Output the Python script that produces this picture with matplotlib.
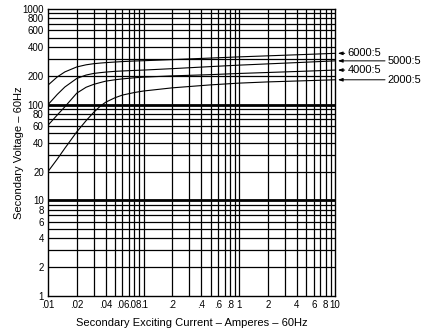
import matplotlib
matplotlib.use("Agg")
import matplotlib.pyplot as plt
import numpy as np

plt.rcParams['font.family'] = ['Liberation Sans', 'DejaVu Sans']

# exciting current (A) and secondary voltage (V)
current = [.01, .0125, .015, .02, .025, .03, .035, .04, .05, .06, .08, .1, .2, .5, 1, 2, 5, 10]
v_6000 = [160, 195, 220, 248, 261, 268, 272, 275, 279, 282, 286, 288, 296, 307, 316, 324, 335, 344]
v_5000 = [100, 128, 153, 188, 204, 212, 216, 219, 223, 225, 228, 230, 238, 250, 259, 267, 278, 287]
v_4000 = [61, 78, 95, 132, 152, 163, 170, 176, 182, 186, 191, 194, 200, 206, 212, 217, 224, 230]
v_2000 = [20, 27, 35, 52, 68, 83, 96, 106, 118, 126, 134, 139, 150, 161, 168, 173, 178, 182]

ratio_labels = ["6000:5", "5000:5", "4000:5", "2000:5"]
x_ticks = [.01, .02, .04, .06, .08, .1, .2, .4, .6, .8, 1, 2, 4, 6, 8, 10]
x_ticklabels = [".01", ".02", ".04", ".06", ".08", ".1", ".2", ".4", ".6", ".8",
                "1", "2", "4", "6", "8", "10"]
y_ticks = [1, 2, 4, 6, 8, 10, 20, 40, 60, 80, 100, 200, 400, 600, 800, 1000]

fig = plt.figure(figsize=(4.26, 3.35), dpi=100)
ax = fig.add_axes([48/426, 39/335, 287/426, 287/335])
ax.set_xscale('log')
ax.set_yscale('log')
ax.set_xlim(.01, 10)
ax.set_ylim(1, 1000)

# grid lines
for dec in [.01, .1, 1]:
    for m in range(2, 10):
        ax.axvline(dec * m, color='black', lw=0.9, zorder=1)
ax.axvline(.1, color='black', lw=0.9, zorder=1)
ax.axvline(1, color='black', lw=0.9, zorder=1)
for dec in [1, 10, 100]:
    for m in range(2, 10):
        ax.axhline(dec * m, color='black', lw=0.9, zorder=1)
ax.axhline(10, color='black', lw=2.0, zorder=1)
ax.axhline(100, color='black', lw=2.0, zorder=1)

curves = [v_6000, v_5000, v_4000, v_2000]
for vals in curves:
    ax.plot(current, vals, color='black', lw=0.8, zorder=3)

for sp in ax.spines.values():
    sp.set_color('black')
    sp.set_linewidth(1.0)

ax.set_xticks(x_ticks)
ax.set_xticklabels(x_ticklabels)
ax.set_yticks(y_ticks)
ax.set_yticklabels([str(v) for v in y_ticks])
ax.minorticks_off()
ax.tick_params(length=0, labelsize=7, pad=3)

ax.set_xlabel("Secondary Exciting Current \u2013 Amperes \u2013 60Hz", fontsize=8, labelpad=6)
ax.set_ylabel("Secondary Voltage \u2013 60Hz", fontsize=8)
ax.yaxis.set_label_coords(-0.085, 0.5)

# ratio labels with arrows pointing to curve ends
offsets = [9, 38, 9, 38]
for lab, vals, off in zip(ratio_labels, curves, offsets):
    ax.annotate(lab, xy=(10, vals[-1]), xytext=(off, 0), textcoords='offset points',
                ha='left', va='center', fontsize=8, annotation_clip=False,
                arrowprops=dict(arrowstyle='-|>,head_length=0.35,head_width=0.12',
                                color='black', lw=0.7, shrinkA=0, shrinkB=2))

fig.savefig("out.png", dpi=100)
